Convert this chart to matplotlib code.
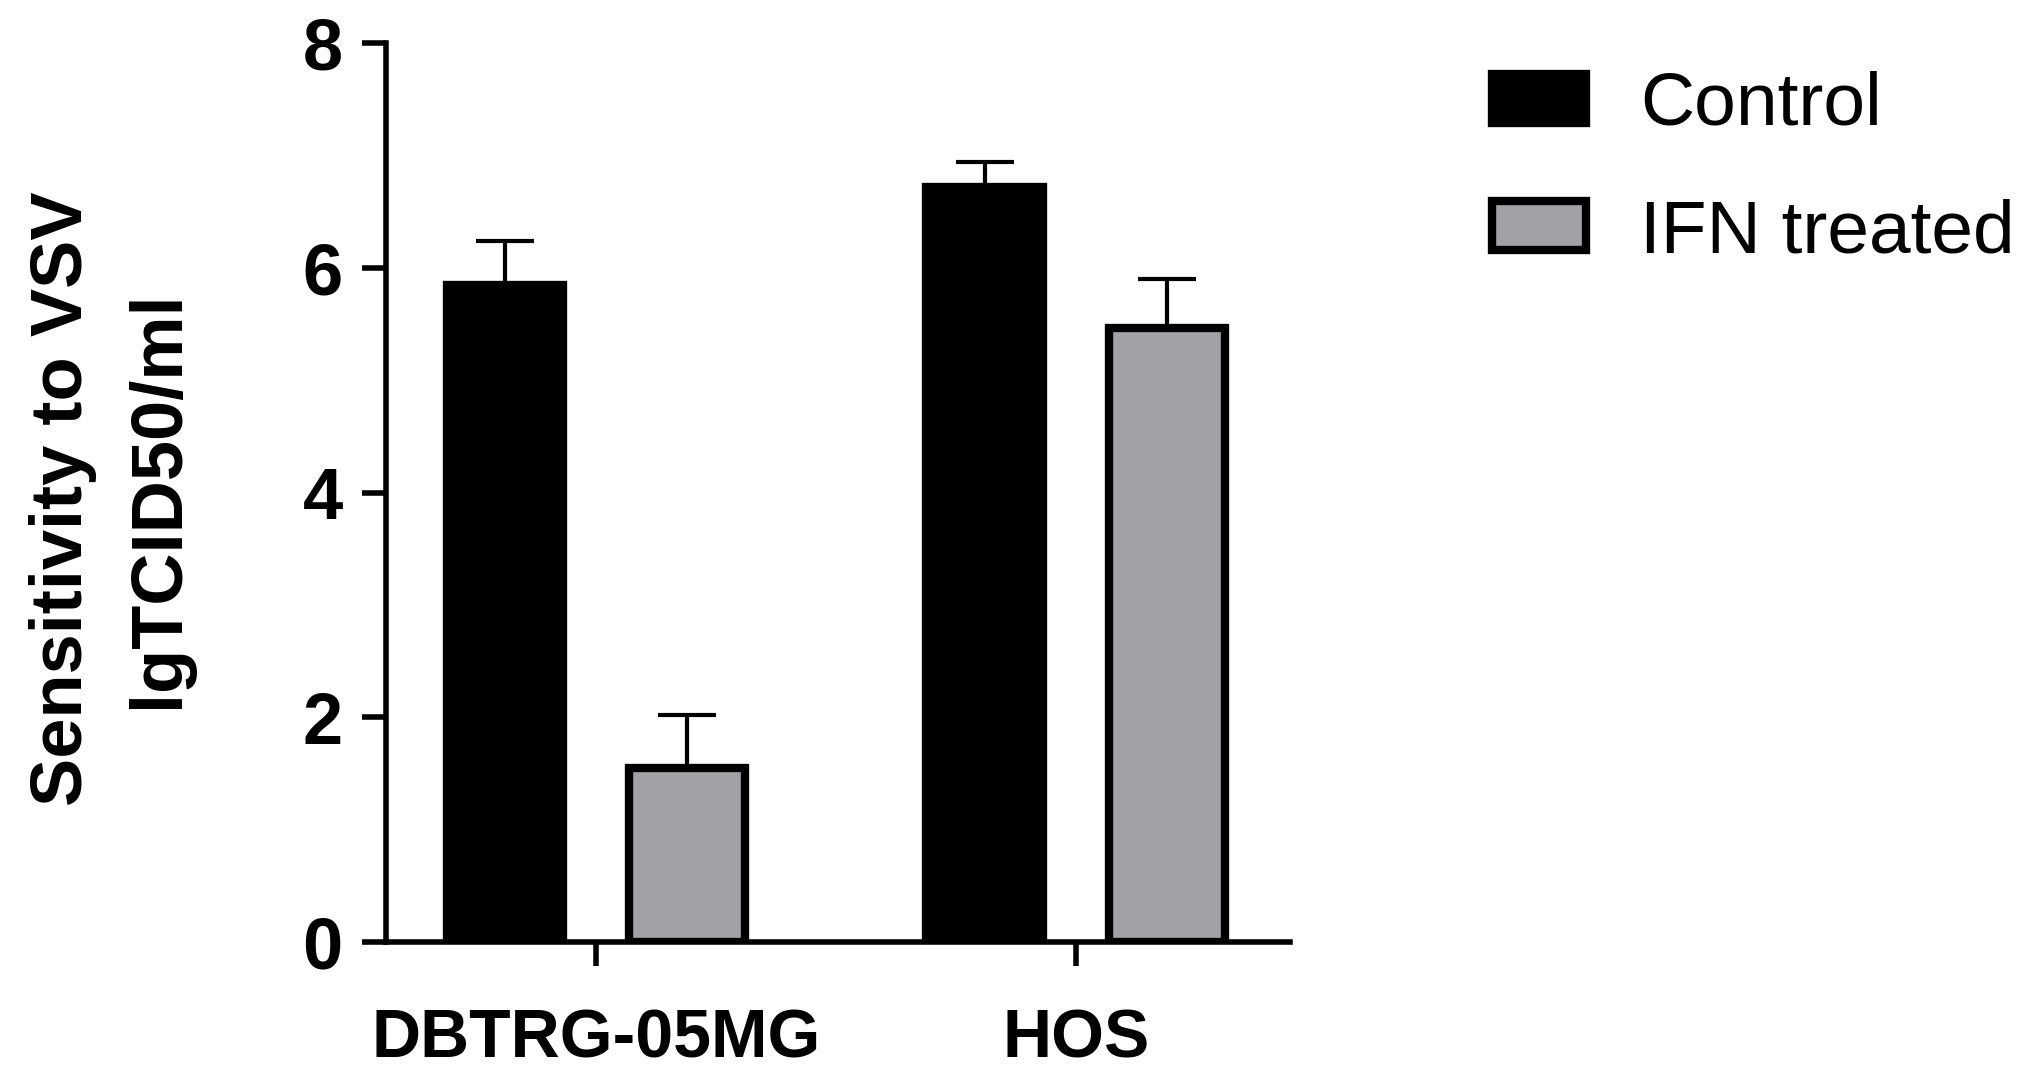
import numpy as np
import matplotlib
matplotlib.use("Agg")
import matplotlib.pyplot as plt

# data
cell_lines = ["DBTRG-05MG", "HOS"]
control_mean = [5.85, 6.72]
control_err = [0.39, 0.22]
ifn_mean = [1.55, 5.46]
ifn_err = [0.47, 0.44]
series_labels = ["Control", "IFN treated"]
y_ticks = [0, 2, 4, 6, 8]

plt.rcParams['font.family'] = ['Liberation Sans', 'DejaVu Sans']

fig = plt.figure(figsize=(20.31, 10.89), dpi=100)
ax = fig.add_axes([0.190, 0.135, 0.445, 0.8255])

x = np.arange(len(cell_lines))
width = 0.243
offset = 0.19

ax.bar(x - offset, control_mean, width, color="black", edgecolor="black",
       linewidth=6, label=series_labels[0], zorder=3)
ax.bar(x + offset, ifn_mean, width, color="#a2a2a6", edgecolor="black",
       linewidth=6, label=series_labels[1], zorder=3)

# upward-only error bars
ax.errorbar(x - offset, control_mean, yerr=[np.zeros(2), control_err], fmt="none",
            ecolor="black", elinewidth=3, capsize=21, capthick=3, zorder=2)
ax.errorbar(x + offset, ifn_mean, yerr=[np.zeros(2), ifn_err], fmt="none",
            ecolor="black", elinewidth=3, capsize=21, capthick=3, zorder=2)

ax.set_xlim(-0.438, 1.446)
ax.set_ylim(0, 8)
ax.set_yticks(y_ticks)
ax.set_yticklabels([str(t) for t in y_ticks], fontsize=52, fontweight="bold")
ax.set_xticks(x)
ax.set_xticklabels(cell_lines, fontsize=49, fontweight="bold")

for side in ["top", "right"]:
    ax.spines[side].set_visible(False)
for side in ["left", "bottom"]:
    ax.spines[side].set_linewidth(4)
ax.tick_params(axis="both", width=4, length=17)
ax.tick_params(axis="y", pad=14)
ax.tick_params(axis="x", pad=30)

fig.text(0.0545, 0.542, "Sensitivity to VSV\nlgTCID50/ml", rotation=90,
         ha="center", va="center", fontsize=52, fontweight="bold",
         linespacing=1.53)

fig.legend(loc="upper left", bbox_to_anchor=(0.7347, 0.935), frameon=False,
           fontsize=54, handlelength=1.25, handleheight=0.63,
           labelspacing=0.78, handletextpad=0.72, borderpad=0,
           borderaxespad=0)

fig.savefig("out.png", dpi=100)
